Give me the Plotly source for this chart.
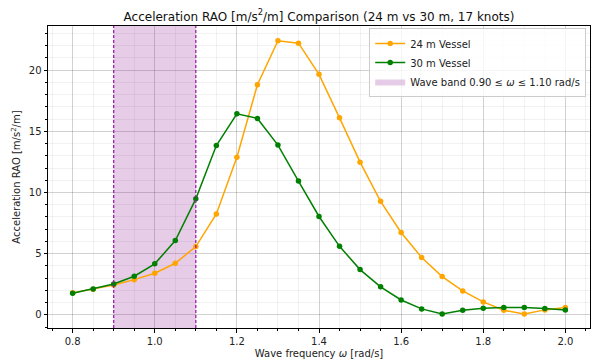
import plotly.graph_objects as go

omega = [0.80, 0.85, 0.90, 0.95, 1.00, 1.05, 1.10, 1.15, 1.20, 1.25, 1.30, 1.35, 1.40,
         1.45, 1.50, 1.55, 1.60, 1.65, 1.70, 1.75, 1.80, 1.85, 1.90, 1.95, 2.00]
rao_24 = [1.80, 2.10, 2.45, 2.88, 3.40, 4.22, 5.58, 8.25, 12.88, 18.8, 22.4, 22.2, 19.65,
          16.1, 12.48, 9.28, 6.73, 4.69, 3.13, 1.96, 1.06, 0.38, 0.08, 0.41, 0.60]
rao_30 = [1.77, 2.12, 2.53, 3.16, 4.17, 6.07, 9.48, 13.84, 16.43, 16.05, 13.87, 10.93, 8.04,
          5.60, 3.70, 2.29, 1.22, 0.49, 0.08, 0.38, 0.54, 0.60, 0.60, 0.52, 0.41]
band_lo, band_hi = 0.90, 1.10
x_ticks = [0.8, 1.0, 1.2, 1.4, 1.6, 1.8, 2.0]
y_ticks = [0, 5, 10, 15, 20]

x_range = [0.74, 2.06]
y_range = [-1.07, 23.6]

fig = go.Figure()
# band (fill) + legend entry
fig.add_trace(go.Scatter(x=[band_lo, band_hi, band_hi, band_lo, band_lo],
                         y=[y_range[0], y_range[0], y_range[1], y_range[1], y_range[0]],
                         mode="lines", fill="toself", fillcolor="rgba(128,0,128,0.2)",
                         line=dict(width=0), hoverinfo="skip", legendrank=3,
                         name="Wave band 0.90 ≤ <i>ω</i> ≤ 1.10 rad/s"))
fig.add_trace(go.Scatter(x=omega, y=rao_24, mode="lines+markers", name="24 m Vessel",
                         legendrank=1,
                         line=dict(color="#FFA500", width=1.5),
                         marker=dict(color="#FFA500", size=5.5)))
fig.add_trace(go.Scatter(x=omega, y=rao_30, mode="lines+markers", name="30 m Vessel",
                         legendrank=2,
                         line=dict(color="#008000", width=1.5),
                         marker=dict(color="#008000", size=5.5)))
for xv in (band_lo, band_hi):
    fig.add_shape(type="line", x0=xv, x1=xv, y0=0, y1=1, xref="x", yref="paper",
                  line=dict(color="#9a10a8", width=1.2, dash="3px,2px"))

axis_common = dict(showline=True, linecolor="black", linewidth=1, mirror=True,
                   ticks="outside", ticklen=3.5, tickcolor="black", showgrid=True,
                   gridcolor="rgba(0,0,0,0.13)", gridwidth=0.8, zeroline=False,
                   tickfont=dict(size=10, color="#222"))
fig.update_xaxes(**axis_common, range=x_range, tickvals=x_ticks, tickformat=".1f",
                 title=dict(text="Wave frequency <i>ω</i> [rad/s]", font=dict(size=10, color="#222"), standoff=4),
                 minor=dict(dtick=0.05, tick0=0.8, ticks="outside", ticklen=2, tickcolor="black",
                            showgrid=True, gridcolor="rgba(0,0,0,0.05)", gridwidth=0.6))
fig.update_yaxes(**axis_common, range=y_range, tickvals=y_ticks,
                 title=dict(text="Acceleration RAO [m/s<sup>2</sup>/m]", font=dict(size=10, color="#222"), standoff=6),
                 minor=dict(dtick=1, tick0=0, ticks="outside", ticklen=2, tickcolor="black",
                            showgrid=True, gridcolor="rgba(0,0,0,0.05)", gridwidth=0.6))

fig.update_layout(
    width=592, height=363,
    margin=dict(l=48, r=2, t=26, b=35),
    paper_bgcolor="white", plot_bgcolor="white",
    font=dict(family="DejaVu Sans", size=10, color="#222"),
    title=dict(text="Acceleration RAO [m/s<sup>2</sup>/m] Comparison (24 m vs 30 m, 17 knots)",
               x=0.5, xref="paper", xanchor="center", y=0.955, yanchor="middle",
               font=dict(size=12, color="#111")),
    legend=dict(x=0.993, y=0.993, xanchor="right", yanchor="top",
                bgcolor="rgba(255,255,255,0.8)", bordercolor="#ccc", borderwidth=1,
                font=dict(size=10), tracegroupgap=0, itemwidth=30),
    showlegend=True,
)

fig.write_html("out.html")
